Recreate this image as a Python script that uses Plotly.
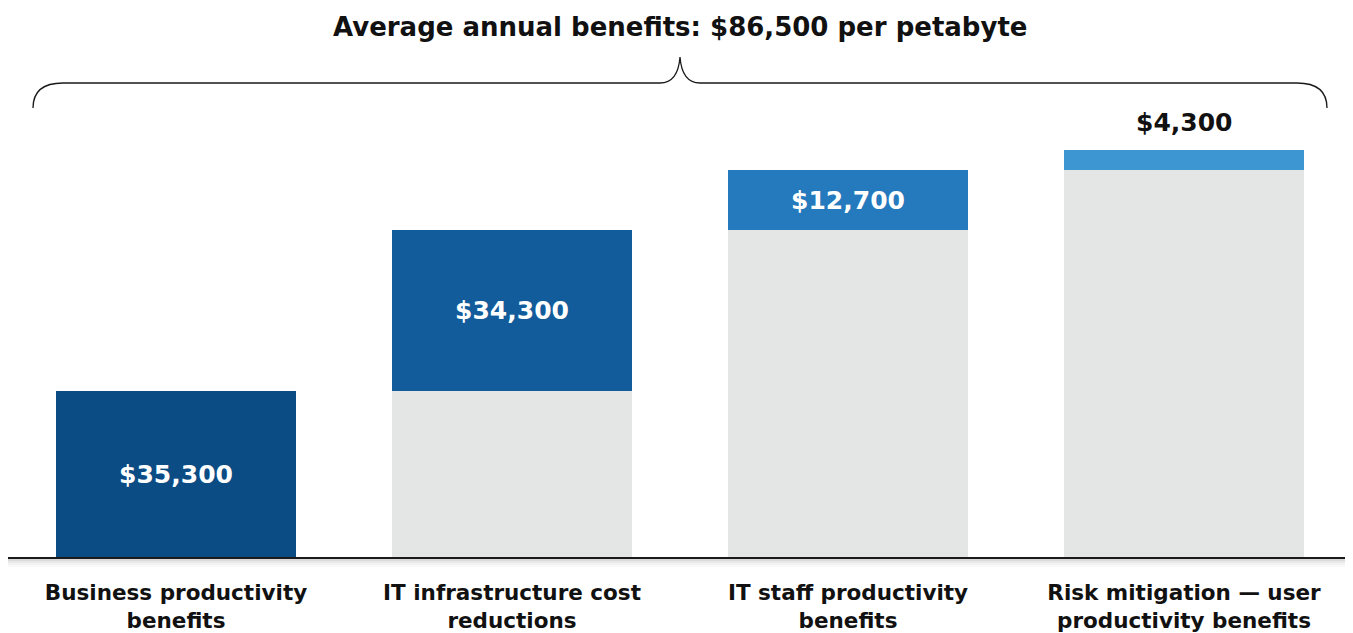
import plotly.graph_objects as go

categories = ["Business productivity<br>benefits", "IT infrastructure cost<br>reductions",
              "IT staff productivity<br>benefits", "Risk mitigation — user<br>productivity benefits"]
values = [35300, 34300, 12700, 4300]
colors = ["#0b4c85", "#135c9c", "#2579bd", "#3d96d2"]
title_text = "Average annual benefits: $86,500 per petabyte"

bases = [0]
for v in values[:-1]:
    bases.append(bases[-1] + v)

FONT = "DejaVu Sans"
OFF = 8  # page body margin
W, H = 1353 - OFF, 633 - OFF
ML, MR, MT, MB = 0, 1, 92, 76
YMAX = 97200

x = list(range(len(categories)))
fig = go.Figure()
fig.add_trace(go.Bar(x=x, y=bases, marker=dict(color="#e4e6e5", line=dict(width=0)),
                     width=0.714, hoverinfo="skip", showlegend=False))
labels = ["${:,}".format(v) for v in values]
inside = [lbl if i < 3 else "" for i, lbl in enumerate(labels)]
fig.add_trace(go.Bar(x=x, y=values, base=bases, marker=dict(color=colors, line=dict(width=0)),
                     width=0.714, text=inside, textposition="inside", insidetextanchor="middle",
                     textfont=dict(family=FONT, size=25, color="white", weight="bold"),
                     constraintext="none", showlegend=False))

fig.add_annotation(x=x[3], y=bases[3] + values[3], text=labels[3], showarrow=False,
                   yanchor="bottom", yshift=11,
                   font=dict(family=FONT, size=25, color="#111111", weight="bold"))

pw, ph = W - ML - MR, H - MT - MB
def px2paper(px, py):
    return (px - OFF - ML) / pw, (H - MB - (py - OFF)) / ph

fig.add_annotation(x=0.5, xref="paper", y=px2paper(680, 27)[1], yref="paper",
                   text=title_text, showarrow=False, yanchor="middle",
                   font=dict(family=FONT, size=26, color="#111111", weight="bold"))

# brace, defined in page pixel space then mapped to paper coords
def P(px, py):
    a, b = px2paper(px, py)
    return "{:.5f},{:.5f}".format(a, b)

path = ("M " + P(33, 108) + " Q " + P(33, 83) + " " + P(63, 83) +
        " L " + P(660, 83) + " Q " + P(678, 83) + " " + P(680, 57) +
        " Q " + P(682, 83) + " " + P(700, 83) +
        " L " + P(1297, 83) + " Q " + P(1327, 83) + " " + P(1327, 108))
fig.add_shape(type="path", path=path, xref="paper", yref="paper",
              line=dict(color="#1a1a1a", width=1.3))

# subtle shadow under baseline
for i, c in enumerate(["#dadada", "#e9e9e9", "#f3f3f3", "#f9f9f9"]):
    fig.add_shape(type="line", xref="paper", yref="paper", x0=0, x1=1,
                  y0=-(3 + i * 2) / ph, y1=-(3 + i * 2) / ph, line=dict(color=c, width=2))

fig.update_layout(
    width=W, height=H, margin=dict(l=ML, r=MR, t=MT, b=MB),
    barmode="overlay", bargap=0, plot_bgcolor="white", paper_bgcolor="white",
    font=dict(family=FONT),
    xaxis=dict(tickmode="array", tickvals=x, ticktext=categories, range=[-0.5, 3.5],
               showline=True, linecolor="#1a1a1a", linewidth=2.5, showgrid=False, zeroline=False,
               ticks="", ticklabelstandoff=14,
               tickfont=dict(family=FONT, size=21.5, color="#111111", weight="bold"),
               fixedrange=True),
    yaxis=dict(range=[0, YMAX], visible=False, fixedrange=True),
)
fig.write_html("out.html")
